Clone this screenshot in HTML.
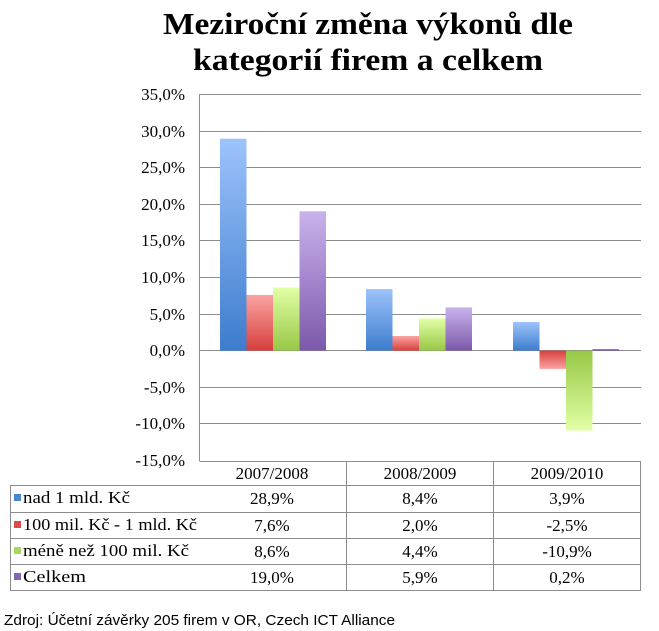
<!DOCTYPE html>
<html><head><meta charset="utf-8"><style>
body{margin:0;background:#fff;width:659px;height:631px;overflow:hidden}
svg{display:block}
</style></head><body>
<svg width="659" height="631" xmlns="http://www.w3.org/2000/svg">
<defs>
<linearGradient id="b" x1="0" y1="0" x2="0" y2="1"><stop offset="0" stop-color="#9dc3fb"/><stop offset="1" stop-color="#3d7ccd"/></linearGradient>
<linearGradient id="r" x1="0" y1="0" x2="0" y2="1"><stop offset="0" stop-color="#faa3a2"/><stop offset="1" stop-color="#d63f3c"/></linearGradient>
<linearGradient id="g" x1="0" y1="0" x2="0" y2="1"><stop offset="0" stop-color="#e2ffa6"/><stop offset="1" stop-color="#97c845"/></linearGradient>
<linearGradient id="p" x1="0" y1="0" x2="0" y2="1"><stop offset="0" stop-color="#c9b2ec"/><stop offset="1" stop-color="#7c58ab"/></linearGradient>
<linearGradient id="rn" x1="0" y1="1" x2="0" y2="0"><stop offset="0" stop-color="#faa3a2"/><stop offset="1" stop-color="#d63f3c"/></linearGradient>
<linearGradient id="gn" x1="0" y1="1" x2="0" y2="0"><stop offset="0" stop-color="#e2ffa6"/><stop offset="1" stop-color="#97c845"/></linearGradient>
</defs>
<g font-family="'Liberation Serif',serif" font-weight="bold" font-size="31" fill="#000">
<text x="163" y="34" textLength="410" lengthAdjust="spacingAndGlyphs">Meziroční změna výkonů dle</text>
<text x="193" y="70" textLength="350" lengthAdjust="spacingAndGlyphs">kategorií firem a celkem</text>
</g>
<g stroke="#8c8c8c" stroke-width="1">
<line x1="199" y1="94.5" x2="641" y2="94.5"/>
<line x1="199" y1="131.5" x2="641" y2="131.5"/>
<line x1="199" y1="167.5" x2="641" y2="167.5"/>
<line x1="199" y1="204.5" x2="641" y2="204.5"/>
<line x1="199" y1="240.5" x2="641" y2="240.5"/>
<line x1="199" y1="277.5" x2="641" y2="277.5"/>
<line x1="199" y1="314.5" x2="641" y2="314.5"/>
<line x1="199" y1="350.5" x2="641" y2="350.5"/>
<line x1="199" y1="387.5" x2="641" y2="387.5"/>
<line x1="199" y1="423.5" x2="641" y2="423.5"/>
<line x1="199.5" y1="94" x2="199.5" y2="461"/>
</g>
<g font-family="'Liberation Serif',serif" font-size="17" text-anchor="end" fill="#000">
<text x="185" y="100">35,0%</text><text x="185" y="137">30,0%</text><text x="185" y="173">25,0%</text>
<text x="185" y="210">20,0%</text><text x="185" y="246">15,0%</text><text x="185" y="283">10,0%</text>
<text x="185" y="320">5,0%</text><text x="185" y="356">0,0%</text><text x="185" y="393">-5,0%</text>
<text x="185" y="429">-10,0%</text><text x="185" y="466">-15,0%</text>
</g>
<g>
<rect x="220" y="138.7" width="26.5" height="212" fill="url(#b)"/>
<rect x="246.5" y="294.9" width="26.5" height="55.7" fill="url(#r)"/>
<rect x="273" y="287.6" width="26.5" height="63" fill="url(#g)"/>
<rect x="299.5" y="211.3" width="26.5" height="139.3" fill="url(#p)"/>
<rect x="366" y="289.1" width="26.5" height="61.5" fill="url(#b)"/>
<rect x="392.5" y="336" width="26.5" height="14.6" fill="url(#r)"/>
<rect x="419" y="318.4" width="26.5" height="32.2" fill="url(#g)"/>
<rect x="445.5" y="307.4" width="26.5" height="43.2" fill="url(#p)"/>
<rect x="513" y="322" width="26.5" height="28.6" fill="url(#b)"/>
<rect x="539.5" y="350.6" width="26.5" height="18.3" fill="url(#rn)"/>
<rect x="566" y="350.6" width="26.5" height="79.9" fill="url(#gn)"/>
<rect x="592.5" y="349.2" width="26.5" height="1.6" fill="#7c58ab"/>
</g>
<g stroke="#8c8c8c" stroke-width="1" fill="none">
<line x1="199.5" y1="461.5" x2="641" y2="461.5"/>
<line x1="10" y1="485.5" x2="641" y2="485.5"/>
<line x1="10" y1="512.5" x2="641" y2="512.5"/>
<line x1="10" y1="538.5" x2="641" y2="538.5"/>
<line x1="10" y1="564.5" x2="641" y2="564.5"/>
<line x1="10" y1="590.5" x2="641" y2="590.5"/>
<line x1="10.5" y1="485" x2="10.5" y2="591"/>
<line x1="346.5" y1="461" x2="346.5" y2="591"/>
<line x1="493.5" y1="461" x2="493.5" y2="591"/>
<line x1="640.5" y1="461" x2="640.5" y2="591"/>
</g>
<g font-family="'Liberation Serif',serif" font-size="17" fill="#000">
<g text-anchor="middle">
<text x="272" y="479">2007/2008</text><text x="420" y="479">2008/2009</text><text x="567" y="479">2009/2010</text>
<text x="272" y="504">28,9%</text><text x="420" y="504">8,4%</text><text x="567" y="504">3,9%</text>
<text x="272" y="531">7,6%</text><text x="420" y="531">2,0%</text><text x="567" y="531">-2,5%</text>
<text x="272" y="557">8,6%</text><text x="420" y="557">4,4%</text><text x="567" y="557">-10,9%</text>
<text x="272" y="583">19,0%</text><text x="420" y="583">5,9%</text><text x="567" y="583">0,2%</text>
</g>
<rect x="14" y="494" width="7" height="7" fill="#4a86d6"/>
<rect x="14" y="521" width="7" height="7" fill="#dd4c4a"/>
<rect x="14" y="547" width="7" height="7" fill="#a6d65a"/>
<rect x="14" y="573" width="7" height="7" fill="#8464b4"/>
<text x="23" y="503" textLength="107" lengthAdjust="spacingAndGlyphs">nad 1 mld. Kč</text>
<text x="23" y="530" textLength="174" lengthAdjust="spacingAndGlyphs">100 mil. Kč - 1 mld. Kč</text>
<text x="23" y="556" textLength="166" lengthAdjust="spacingAndGlyphs">méně než 100 mil. Kč</text>
<text x="23" y="582" textLength="63" lengthAdjust="spacingAndGlyphs">Celkem</text>
</g>
<text x="4" y="625" font-family="'Liberation Sans',sans-serif" font-size="15" fill="#000" textLength="391" lengthAdjust="spacingAndGlyphs">Zdroj: Účetní závěrky 205 firem v OR, Czech ICT Alliance</text>
</svg>
</body></html>
